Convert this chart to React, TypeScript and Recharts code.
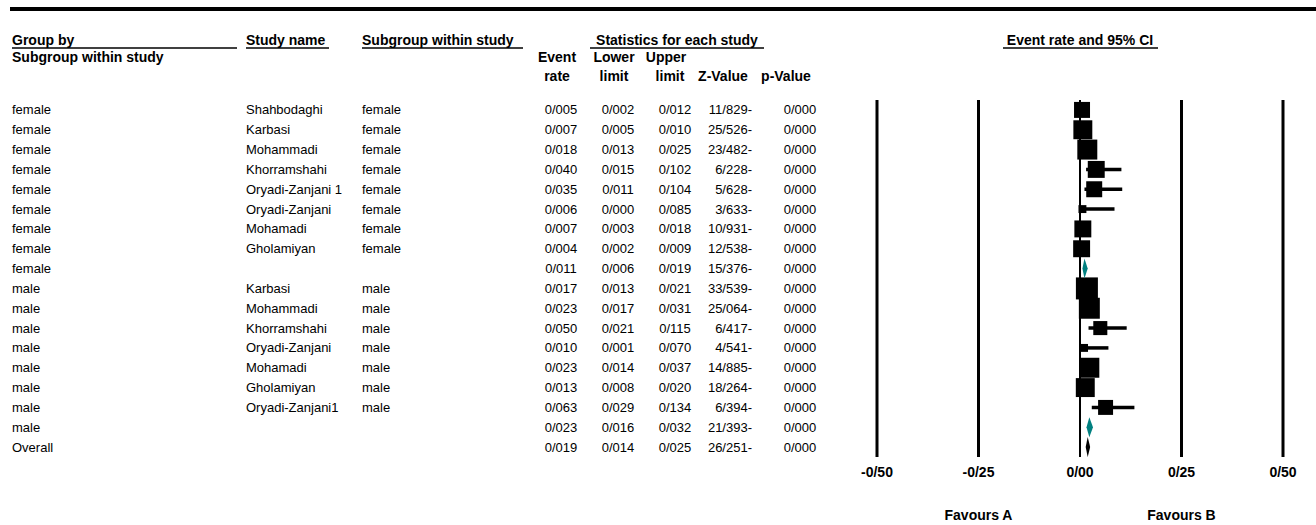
import React from "react";
import { ComposedChart, Scatter, ErrorBar, XAxis, YAxis, ZAxis, ReferenceLine } from "recharts";

const groups = [
  "female", "female", "female", "female", "female", "female", "female", "female", "female",
  "male", "male", "male", "male", "male", "male", "male", "male", "Overall",
];
const studies = [
  "Shahbodaghi", "Karbasi", "Mohammadi", "Khorramshahi", "Oryadi-Zanjani 1", "Oryadi-Zanjani", "Mohamadi", "Gholamiyan", "",
  "Karbasi", "Mohammadi", "Khorramshahi", "Oryadi-Zanjani", "Mohamadi", "Gholamiyan", "Oryadi-Zanjani1", "", "",
];
const subgroups = [
  "female", "female", "female", "female", "female", "female", "female", "female", "",
  "male", "male", "male", "male", "male", "male", "male", "", "",
];
const rowKind = [
  "study", "study", "study", "study", "study", "study", "study", "study", "subgroup",
  "study", "study", "study", "study", "study", "study", "study", "subgroup", "overall",
];
const eventRate = [0.005, 0.007, 0.018, 0.04, 0.035, 0.006, 0.007, 0.004, 0.011, 0.017, 0.023, 0.05, 0.01, 0.023, 0.013, 0.063, 0.023, 0.019];
const lowerLimit = [0.002, 0.005, 0.013, 0.015, 0.011, 0.0, 0.003, 0.002, 0.006, 0.013, 0.017, 0.021, 0.001, 0.014, 0.008, 0.029, 0.016, 0.014];
const upperLimit = [0.012, 0.01, 0.025, 0.102, 0.104, 0.085, 0.018, 0.009, 0.019, 0.021, 0.031, 0.115, 0.07, 0.037, 0.02, 0.134, 0.032, 0.025];
const zValue = [-11.829, -25.526, -23.482, -6.228, -5.628, -3.633, -10.931, -12.538, -15.376, -33.539, -25.064, -6.417, -4.541, -14.885, -18.264, -6.394, -21.393, -26.251];
const pValue = [0, 0, 0, 0, 0, 0, 0, 0, 0, 0, 0, 0, 0, 0, 0, 0, 0, 0];
// relative study weights (box area)
const weights = [5.7, 8.0, 8.9, 6.4, 5.7, 1.4, 6.4, 6.4, 0, 10.8, 9.8, 4.4, 1.4, 8.9, 8.0, 5.0, 0, 0];
const xTicks = [-0.5, -0.25, 0, 0.25, 0.5];
const favourTicks = [-0.25, 0.25];
const favourLabels = ["Favours A", "Favours B"];

const FONT = "'Liberation Sans', Arial, sans-serif";
const rows = groups.map((_, i) => i);

const fmt3 = (v: number) => v.toFixed(3).replace(".", "/");
const fmtZ = (v: number) => Math.abs(v).toFixed(3).replace(".", "/") + (v < 0 ? "-" : "");
const fmtTick = (v: number) => (v < 0 ? "-" : "") + Math.abs(v).toFixed(2).replace(".", "/");

const studyData = rows
  .filter((i) => rowKind[i] === "study")
  .map((i) => ({
    x: eventRate[i],
    row: i,
    weight: weights[i],
    err: [eventRate[i] - lowerLimit[i], upperLimit[i] - eventRate[i]],
  }));

const summaries = rows
  .filter((i) => rowKind[i] !== "study")
  .map((i) => ({
    row: i,
    color: rowKind[i] === "overall" ? "#000000" : "#008080",
    points: [
      { x: lowerLimit[i], row: i },
      { x: eventRate[i], row: i },
      { x: upperLimit[i], row: i },
    ],
  }));

const Square = (props: any) => {
  const { cx, cy, size } = props;
  const side = 2 * Math.sqrt(Math.max(size, 0) / Math.PI);
  return <rect x={cx - side / 2} y={cy - side / 2} width={side} height={side} fill="#000" />;
};

const diamondLine = (color: string) => (props: any) => {
  const p = props.points;
  if (!p || p.length < 3) return <g />;
  const h = 10;
  const pts = `${p[0].x},${p[0].y} ${p[1].x},${p[1].y - h} ${p[2].x},${p[2].y} ${p[1].x},${p[1].y + h}`;
  return <polygon points={pts} fill={color} stroke="none" />;
};

const RowTick = (props: any) => {
  const { y, payload } = props;
  const i = payload.value as number;
  return (
    <g fontFamily={FONT} fontSize={13} fill="#000">
      <text x={12} y={y} dominantBaseline="central">{groups[i]}</text>
      <text x={246} y={y} dominantBaseline="central">{studies[i]}</text>
      <text x={362} y={y} dominantBaseline="central">{subgroups[i]}</text>
      <text x={561} y={y} textAnchor="middle" dominantBaseline="central">{fmt3(eventRate[i])}</text>
      <text x={618} y={y} textAnchor="middle" dominantBaseline="central">{fmt3(lowerLimit[i])}</text>
      <text x={675} y={y} textAnchor="middle" dominantBaseline="central">{fmt3(upperLimit[i])}</text>
      <text x={752} y={y} textAnchor="end" dominantBaseline="central">{fmtZ(zValue[i])}</text>
      <text x={800} y={y} textAnchor="middle" dominantBaseline="central">{fmt3(pValue[i])}</text>
    </g>
  );
};

const Header = () => (
  <svg width={1316} height={525} style={{ position: "absolute", left: 0, top: 0, pointerEvents: "none" }}>
    <rect x={10} y={7} width={1306} height={4} fill="#000" />
    <g fontFamily={FONT} fontSize={14} fontWeight="bold" fill="#000">
      <text x={12} y={40} dominantBaseline="central">Group by</text>
      <text x={12} y={57} dominantBaseline="central">Subgroup within study</text>
      <text x={246} y={40} dominantBaseline="central">Study name</text>
      <text x={362} y={40} dominantBaseline="central">Subgroup within study</text>
      <text x={677} y={40} textAnchor="middle" dominantBaseline="central">Statistics for each study</text>
      <text x={1080} y={40} textAnchor="middle" dominantBaseline="central">Event rate and 95% CI</text>
      <text x={557} y={57} textAnchor="middle" dominantBaseline="central">Event</text>
      <text x={614} y={57} textAnchor="middle" dominantBaseline="central">Lower</text>
      <text x={666} y={57} textAnchor="middle" dominantBaseline="central">Upper</text>
      <text x={557} y={76} textAnchor="middle" dominantBaseline="central">rate</text>
      <text x={614} y={76} textAnchor="middle" dominantBaseline="central">limit</text>
      <text x={670} y={76} textAnchor="middle" dominantBaseline="central">limit</text>
      <text x={723} y={76} textAnchor="middle" dominantBaseline="central">Z-Value</text>
      <text x={786} y={76} textAnchor="middle" dominantBaseline="central">p-Value</text>
    </g>
    <g stroke="#000" strokeWidth={1.5}>
      <line x1={12} x2={237} y1={48} y2={48} />
      <line x1={246} x2={329} y1={48} y2={48} />
      <line x1={362} x2={523} y1={48} y2={48} />
      <line x1={590} x2={764} y1={48} y2={48} />
      <line x1={1003} x2={1158} y1={48} y2={48} />
    </g>
  </svg>
);

export default function App() {
  return (
    <div style={{ position: "absolute", left: 0, top: 0, width: 1316, height: 525, background: "#fff" }}>
      <ComposedChart width={1316} height={525} margin={{ top: 100, right: 33, bottom: 38, left: 0 }}>
        <XAxis
          type="number"
          dataKey="x"
          domain={[-0.5, 0.5]}
          ticks={xTicks}
          tickFormatter={fmtTick}
          axisLine={false}
          tickLine={false}
          height={30}
          tickMargin={4}
          tick={{ fill: "#000", fontSize: 14, fontWeight: "bold", fontFamily: FONT }}
          allowDataOverflow
        />
        <YAxis
          type="number"
          dataKey="row"
          domain={[-0.5, 17.5]}
          ticks={rows}
          interval={0}
          reversed
          width={877}
          axisLine={false}
          tickLine={false}
          tick={<RowTick />}
          allowDataOverflow
        />
        <ZAxis type="number" dataKey="weight" domain={[0, 10.8]} range={[0, 380]} />
        {xTicks.map((t) => {
          const fi = favourTicks.indexOf(t);
          return (
            <ReferenceLine
              key={t}
              x={t}
              stroke="#000"
              strokeWidth={t === 0 ? 2 : 3}
              label={
                fi >= 0
                  ? {
                      value: favourLabels[fi],
                      position: "bottom",
                      offset: 53,
                      fill: "#000",
                      fontSize: 14,
                      fontWeight: "bold",
                      fontFamily: FONT,
                    }
                  : undefined
              }
            />
          );
        })}
        <Scatter data={studyData} dataKey="x" fill="#000" shape={<Square />} isAnimationActive={false}>
          <ErrorBar dataKey="err" direction="x" width={0} stroke="#000" strokeWidth={3.5} />
        </Scatter>
        {summaries.map((s) => (
          <Scatter
            key={s.row}
            data={s.points}
            dataKey="x"
            fill={s.color}
            shape={() => <g />}
            line={diamondLine(s.color)}
            lineType="joint"
            isAnimationActive={false}
          />
        ))}
      </ComposedChart>
      <Header />
    </div>
  );
}
